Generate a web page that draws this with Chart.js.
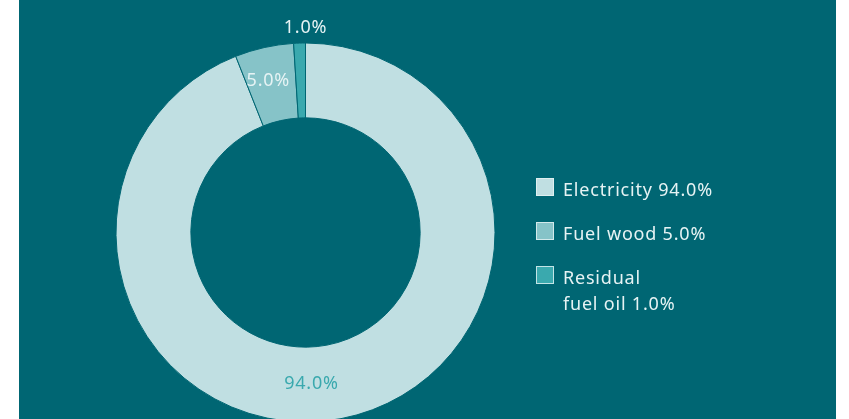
<!DOCTYPE html>
<html>
<head>
<meta charset="utf-8">
<script src="https://cdn.jsdelivr.net/npm/chart.js@4/dist/chart.umd.min.js"></script>
<style>
  html, body { margin: 0; padding: 0; background: #fff; overflow: hidden; }
  #panel { position: absolute; left: 19px; top: 0; width: 817px; height: 419px; background: #006673; }
  #wrap { position: absolute; left: 0; top: 0; width: 849px; height: 440px; }
</style>
</head>
<body>
<div id="panel"></div>
<div id="wrap"><canvas id="chart"></canvas></div>
<script>
// energy mix shares, clockwise from the top
var categories = ['Electricity', 'Fuel wood', 'Residual fuel oil'];
var shares = [94.0, 5.0, 1.0];
var legendLines = [['Electricity 94.0%'], ['Fuel wood 5.0%'], ['Residual', 'fuel oil 1.0%']];
var colors = ['#c0dfe2', '#86c3c8', '#3aa9ae'];

var BG = '#006673';
var FONT = '"Noto Sans", sans-serif';

function setFont(ctx) {
  ctx.font = '18px ' + FONT;
  ctx.letterSpacing = '0.8px';
}

// value labels: inside the ring for big slices, outside for the thin one
var sliceLabels = {
  id: 'sliceLabels',
  afterDatasetsDraw: function(chart) {
    var ctx = chart.ctx;
    var arcs = chart.getDatasetMeta(0).data;
    ctx.save();
    setFont(ctx);
    ctx.textAlign = 'center';
    ctx.textBaseline = 'middle';
    arcs.forEach(function(arc, i) {
      var mid = (arc.startAngle + arc.endAngle) / 2;
      var r = (arc.innerRadius + arc.outerRadius) / 2;
      var x = arc.x + Math.cos(mid) * r;
      var y = arc.y + Math.sin(mid) * r;
      var color = '#e6f3f4';
      if (i === 0) { color = '#3aa9ae'; x = arc.x + 6; y = arc.y + r - 1; }
      if (i === 1) { x -= 4; y -= 3; }
      if (i === 2) { x = arc.x; y = arc.y - arc.outerRadius - 15; }
      ctx.fillStyle = color;
      ctx.fillText(shares[i].toFixed(1) + '%', x, y);
    });
    ctx.restore();
  }
};

// legend on the right, one row per category (long name wraps)
var sideLegend = {
  id: 'sideLegend',
  afterDraw: function(chart) {
    var ctx = chart.ctx;
    var tops = [178, 222, 266];
    ctx.save();
    setFont(ctx);
    ctx.textAlign = 'left';
    ctx.textBaseline = 'alphabetic';
    categories.forEach(function(c, i) {
      var y = tops[i];
      ctx.fillStyle = colors[i];
      ctx.fillRect(536, y, 18, 18);
      ctx.strokeStyle = 'rgba(230,243,244,0.8)';
      ctx.lineWidth = 1;
      ctx.strokeRect(536.5, y + 0.5, 17, 17);
      ctx.fillStyle = '#e6f3f4';
      legendLines[i].forEach(function(line, j) {
        ctx.fillText(line, 563, y + 18 + j * 26);
      });
    });
    ctx.restore();
  }
};

new Chart(document.getElementById('chart'), {
  type: 'doughnut',
  data: {
    labels: categories,
    datasets: [{
      data: shares,
      backgroundColor: colors,
      borderColor: BG,
      borderWidth: 1,
      hoverOffset: 0
    }]
  },
  options: {
    responsive: true,
    maintainAspectRatio: false,
    animation: false,
    cutout: '60.5%',
    layout: { padding: { left: 115.5, right: 353.5, top: 42.5, bottom: 17.5 } },
    plugins: {
      legend: { display: false },
      tooltip: { enabled: false }
    },
    events: []
  },
  plugins: [sliceLabels, sideLegend]
});
</script>
</body>
</html>
